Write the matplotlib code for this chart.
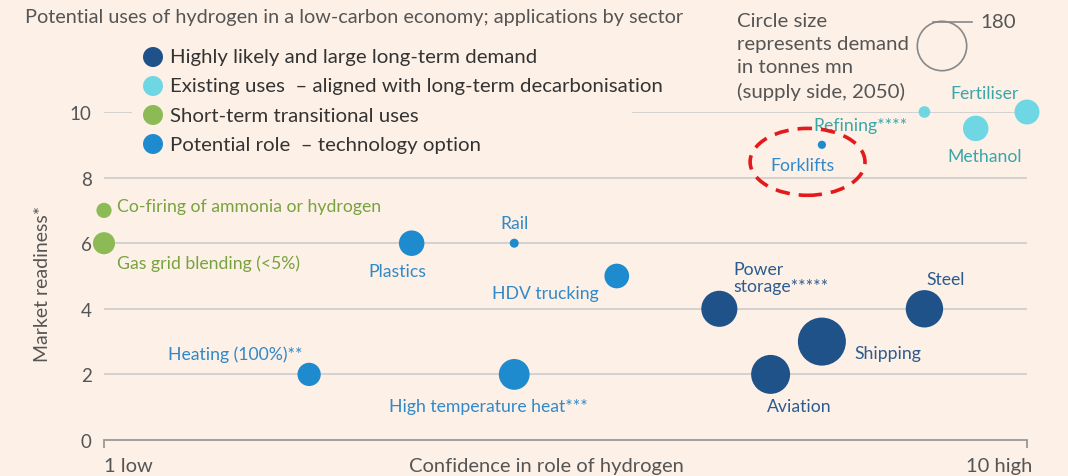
import matplotlib.pyplot as plt
from matplotlib.patches import Ellipse

plt.rcParams['font.family'] = ['Lato', 'DejaVu Sans']

# data
sectors = ["Co-firing of ammonia or hydrogen", "Gas grid blending (<5%)", "Plastics", "Rail",
           "HDV trucking", "Heating (100%)**", "High temperature heat***", "Power\nstorage*****",
           "Steel", "Shipping", "Aviation", "Forklifts", "Refining****", "Fertiliser", "Methanol"]
confidence = [1, 1, 4, 5, 6, 3, 5, 7, 9, 8, 7.5, 8, 9, 10, 9.5]
readiness = [7, 6, 6, 6, 5, 2, 2, 4, 4, 3, 2, 9, 10, 10, 9.5]
demand = [17, 36, 48, 6, 45, 40, 70, 96, 103, 170, 112, 5, 10, 46, 48]
group = [2, 2, 3, 3, 3, 3, 3, 0, 0, 0, 0, 3, 1, 1, 1]

group_names = ["Highly likely and large long-term demand",
               "Existing uses  \u2013 aligned with long-term decarbonisation",
               "Short-term transitional uses",
               "Potential role  \u2013 technology option"]
dot_colors = ["#1f5289", "#6fd6e4", "#8cbb55", "#1f8bcf"]
text_colors = ["#2c5b8f", "#39a6a8", "#77a33f", "#3089c9"]

ref_demand = 180

# label offsets in pixels (dx, dy, ha)
offsets = [(13, 4, "left"), (13, -20, "left"), (-14, -28, "center"), (0, 20, "center"),
           (-18, -17, "right"), (-7, 21, "right"), (-26, -32, "center"), (14, 31, "left"),
           (21, 30, "center"), (33, -11, "left"), (29, -32, "center"), (-19, -20, "center"),
           (-64, -13, "center"), (-42, 19, "center"), (9, -28, "center")]

bg = "#fdf0e6"
grey = "#555555"
W, H = 1068, 477

fig = plt.figure(figsize=(W / 100, H / 100), dpi=100, facecolor=bg)
ax = fig.add_axes([104 / W, 36 / H, 923 / W, 328 / H])
ax.set_facecolor(bg)
ax.set_xlim(1, 10)
ax.set_ylim(0, 10)

# size: r = 24.7 px for 180
k = (2 * 24.7 * 0.72) ** 2 / ref_demand

for y in [2, 4, 6, 8]:
    ax.hlines(y, 1, 10, color="#cccccc", lw=1.2, zorder=1)
ax.hlines(10, 1, 1.27, color="#cccccc", lw=1.2, zorder=1)
ax.hlines(10, 6.15, 10, color="#cccccc", lw=1.2, zorder=1)

for i in range(len(sectors)):
    g = group[i]
    ax.scatter(confidence[i], readiness[i], s=demand[i] * k, color=dot_colors[g],
               edgecolors="none", zorder=3, clip_on=False)
    dx, dy, ha = offsets[i]
    ax.annotate(sectors[i], (confidence[i], readiness[i]), xytext=(dx, dy),
                textcoords="offset pixels", ha=ha, va="center", fontsize=12.7,
                color=text_colors[g], zorder=4, linespacing=1.05)

# forklift highlight
ax.add_patch(Ellipse((7.86, 8.48), 1.12, 2.04, fill=False, ec="#e3191b", lw=2.6,
                     ls=(0, (4, 2.5)), zorder=5, clip_on=False))

# axes styling
for s in ["top", "right", "left"]:
    ax.spines[s].set_visible(False)
ax.spines["bottom"].set_color("#999999")
ax.spines["bottom"].set_linewidth(1.3)
ax.set_yticks([0, 2, 4, 6, 8, 10])
ax.tick_params(axis="y", length=0, pad=9, labelsize=13.5, labelcolor=grey)
ax.set_xticks([1, 10])
ax.set_xticklabels(["", ""])
ax.tick_params(axis="x", length=6, width=1.3, color="#999999")

fig.text(104 / W, 1 - 467 / H, "1 low", ha="left", va="center", fontsize=14.5, color=grey)
fig.text(546 / W, 1 - 467 / H, "Confidence in role of hydrogen", ha="center", va="center",
         fontsize=14.5, color=grey)
fig.text(1032 / W, 1 - 467 / H, "10 high", ha="right", va="center", fontsize=14.5, color=grey)
fig.text(43 / W, 1 - 284 / H, "Market readiness*", rotation=90, ha="center", va="center",
         fontsize=14, color=grey)

fig.text(25 / W, 1 - 17 / H, "Potential uses of hydrogen in a low-carbon economy; applications by sector",
         ha="left", va="center", fontsize=14.3, color=grey)

# colour legend
for j, name in enumerate(group_names):
    py = 58 + j * 29
    ax.scatter(153 / W, 1 - py / H, s=(2 * 10 * 0.72) ** 2, color=dot_colors[j],
               edgecolors="none", transform=fig.transFigure, clip_on=False, zorder=6)
    fig.text(170 / W, 1 - py / H, name, ha="left", va="center", fontsize=14.7, color="#333333")

# size legend
ax.scatter(942 / W, 1 - 47 / H, s=ref_demand * k, facecolors="none", edgecolors="#888888",
           linewidths=1.2, transform=fig.transFigure, clip_on=False, zorder=6)
fig.add_artist(plt.Line2D([933 / W, 972 / W], [1 - 23 / H, 1 - 23 / H], color="#888888", lw=1.2))
fig.text(980 / W, 1 - 22 / H, str(ref_demand), ha="left", va="center", fontsize=14.7, color=grey)
fig.text(737 / W, 1 - 57 / H, "Circle size\nrepresents demand\nin tonnes mn\n(supply side, 2050)",
         ha="left", va="center", fontsize=14.7, color=grey, linespacing=1.45)

fig.savefig("out.png", dpi=100, facecolor=bg)
